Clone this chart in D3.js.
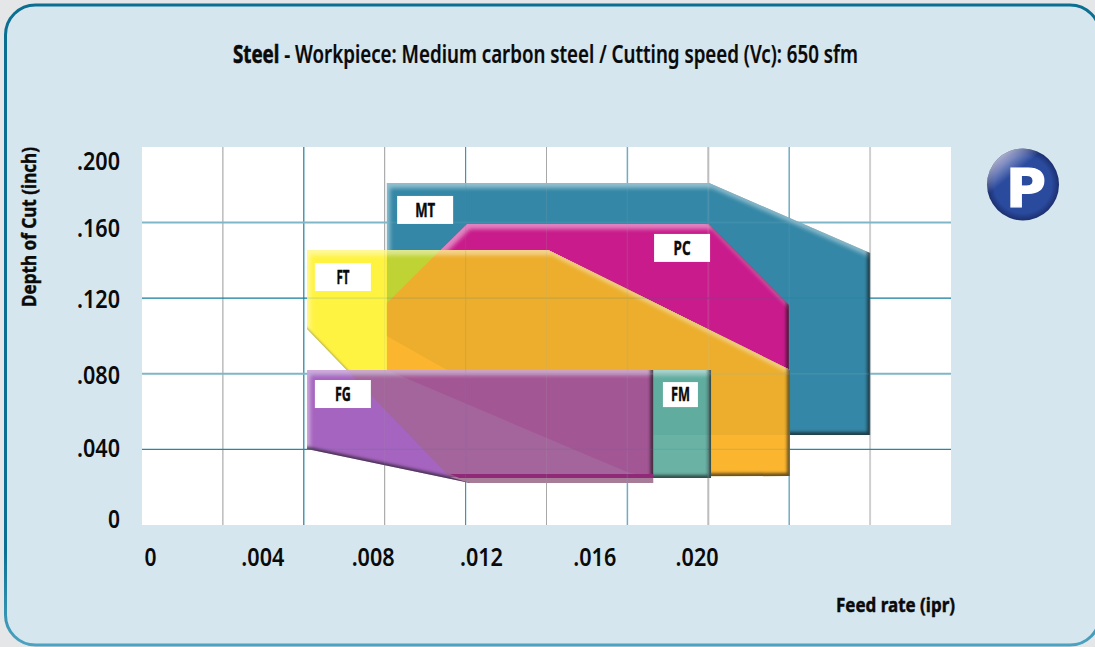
<!DOCTYPE html>
<html>
<head>
<meta charset="utf-8">
<script src="https://cdn.jsdelivr.net/npm/d3@7"></script>
<style>
  html, body { margin: 0; padding: 0; background: #e4e6e8; overflow: hidden; }
  svg { display: block; }
  text { font-family: "Noto Sans", "Open Sans", "Liberation Sans", sans-serif; fill: #0a0a0a; }
</style>
</head>
<body>
<svg id="chart"></svg>
<script>
// values: [feed rate ipr, depth of cut inch]
const mt = [[.00896, .1810], [.02075, .1810], [.02664, .1439], [.02664, .0476], [.01537, .0476], [.00896, .1000]];
const pc = [[.00896, .1175], [.01189, .1593], [.02075, .1593], [.02367, .1164], [.02367, .0259], [.01127, .0259], [.00896, .0598]];
const ft = [[.00604, .1455], [.01486, .1455], [.02371, .0820], [.02371, .0259], [.01127, .0254], [.00604, .1037]];
const fm = [[.0180, .0820], [.02082, .0820], [.02082, .0249], [.0180, .0249]];
const fg = [[.00604, .0820], [.0187, .0820], [.0187, .0222], [.0120, .0222], [.00604, .0402]];
// darker part of the FG band, where it lies over MT and PC
const fgDeep = [[.00896, .0820], [.0187, .0820], [.0187, .0249], [.01775, .0280]];
const fgStrip = [[.01127, .0254], [.0187, .0254], [.0187, .0222], [.0120, .0222]];
const fgSeam = [[.01127, .0270], [.0187, .0270], [.0187, .0249], [.0116, .0249]];

const xTicks = [0, .004, .008, .012, .016, .020];
const yTicks = [0, .040, .080, .120, .160, .200];
const xGridCount = 10;
const labels = ['MT', 'PC', 'FT', 'FG', 'FM'];
const labelFeed = [.01036, .01976, .00735, .00735, .0197];
const labelDepth = [.1667, .1466, .1312, .0693, .0690];

const width = 1095;
const height = 647;
const svg = d3.select('#chart').attr('width', width).attr('height', height);

const x = d3.scaleLinear().domain([0, .0296]).range([142, 951]);
const y = d3.scaleLinear().domain([0, .2]).range([525, 147]);
const line = d3.line().x(d => x(d[0])).y(d => y(d[1])).curve(d3.curveLinearClosed);

// the print uses a condensed face, so the text is squeezed to the printed width
function squeeze(sel, w) {
  sel.attr('textLength', w).attr('lengthAdjust', 'spacingAndGlyphs');
}
// and it is heavier than the installed bold
function heavy(sel, w) {
  sel.style('stroke', '#0a0a0a').style('stroke-width', w);
}

const defs = svg.append('defs');

// bevel on the shapes: light on top and left, dark on right and bottom
const bevel = defs.append('filter').attr('id', 'bevel')
  .attr('color-interpolation-filters', 'sRGB')
  .attr('x', '-5%').attr('y', '-5%').attr('width', '110%').attr('height', '110%');
bevel.append('feOffset').attr('in', 'SourceAlpha').attr('dx', 2.5).attr('dy', 4.5).attr('result', 'o1');
bevel.append('feGaussianBlur').attr('in', 'o1').attr('stdDeviation', 2).attr('result', 'b1');
bevel.append('feComposite').attr('in', 'SourceAlpha').attr('in2', 'b1').attr('operator', 'out').attr('result', 'edge1');
bevel.append('feFlood').attr('flood-color', '#fff').attr('flood-opacity', .46);
bevel.append('feComposite').attr('in2', 'edge1').attr('operator', 'in').attr('result', 'light');
bevel.append('feOffset').attr('in', 'SourceAlpha').attr('dx', -3.5).attr('dy', -3).attr('result', 'o2');
bevel.append('feGaussianBlur').attr('in', 'o2').attr('stdDeviation', 1.8).attr('result', 'b2');
bevel.append('feComposite').attr('in', 'SourceAlpha').attr('in2', 'b2').attr('operator', 'out').attr('result', 'edge2');
bevel.append('feFlood').attr('flood-color', '#111').attr('flood-opacity', .62);
bevel.append('feComposite').attr('in2', 'edge2').attr('operator', 'in').attr('result', 'dark');
const merge = bevel.append('feMerge');
['SourceGraphic', 'light', 'dark'].forEach(d => merge.append('feMergeNode').attr('in', d));

const shapes = { mt, pc, ft, fm, fg };
Object.keys(shapes).forEach(k => {
  defs.append('clipPath').attr('id', 'clip-' + k).append('path').attr('d', line(shapes[k]));
});
const allClip = defs.append('clipPath').attr('id', 'all-shapes');
[mt, pc, ft, fm, fg].forEach(p => allClip.append('path').attr('d', line(p)));

const badgeFill = defs.append('radialGradient').attr('id', 'badge')
  .attr('cx', '50%').attr('cy', '50%').attr('r', '50%');
badgeFill.append('stop').attr('offset', '0%').attr('stop-color', '#2b4b9f');
badgeFill.append('stop').attr('offset', '80%').attr('stop-color', '#2a4a9e');
badgeFill.append('stop').attr('offset', '100%').attr('stop-color', '#1c2f6e');
const badgeShine = defs.append('linearGradient').attr('id', 'shine')
  .attr('x1', '30%').attr('y1', '0%').attr('x2', '50%').attr('y2', '25%');
badgeShine.append('stop').attr('offset', '0%').attr('stop-color', '#d8d4e8').attr('stop-opacity', .8);
badgeShine.append('stop').attr('offset', '100%').attr('stop-color', '#d8d4e8').attr('stop-opacity', 0);

const edge = defs.append('linearGradient').attr('id', 'edge')
  .attr('x1', 0).attr('y1', 0).attr('x2', 0).attr('y2', 1);
edge.append('stop').attr('offset', '0%').attr('stop-color', '#0b6f92');
edge.append('stop').attr('offset', '85%').attr('stop-color', '#0b6f92');
edge.append('stop').attr('offset', '100%').attr('stop-color', '#4aa3c0');

// panel
svg.append('rect')
  .attr('x', 5.5).attr('y', 5).attr('width', 1094.5).attr('height', 640).attr('rx', 30)
  .attr('fill', '#d5e6ef').attr('stroke', 'url(#edge)').attr('stroke-width', 3);

// plot area and grid
svg.append('rect')
  .attr('x', x(0)).attr('y', y(.2)).attr('width', x(.0296) - x(0)).attr('height', y(0) - y(.2))
  .attr('fill', '#fff');

const vGridColor = ['#9a9a9a', '#1d7f9f', '#9a9a9a', '#3f95b0', '#a8a8a8', '#6eaec3', '#bdbdbd', '#6eaec3', '#cfcfcf'];
const vGridWidth = [1, 1.2, 1, 1.2, 1, 1.5, 2, 1.5, 2];
const hGridColor = ['#2a86a5', '#7fb6c8', '#127c9e', '#7fb6c8'];
const hGridWidth = [1.2, 2, 1.2, 2];

function drawGrid(g) {
  g.selectAll('line.v').data(d3.range(1, xGridCount)).join('line').attr('class', 'v')
    .attr('x1', d => x(d * .00296)).attr('x2', d => x(d * .00296))
    .attr('y1', y(.2)).attr('y2', y(0))
    .attr('stroke', (d, i) => vGridColor[i]).attr('stroke-width', (d, i) => vGridWidth[i]);
  g.selectAll('line.h').data(yTicks.slice(1, 5)).join('line').attr('class', 'h')
    .attr('x1', x(0)).attr('x2', x(.0296))
    .attr('y1', d => y(d)).attr('y2', d => y(d))
    .attr('stroke', (d, i) => hGridColor[i]).attr('stroke-width', (d, i) => hGridWidth[i]);
}
drawGrid(svg.append('g'));

// draws a polygon cut down to the listed shapes
function layer(parent, pts, fill, clips = []) {
  let g = parent;
  clips.forEach(c => { g = g.append('g').attr('clip-path', `url(#clip-${c})`); });
  g.append('path').attr('d', line(pts)).attr('fill', fill);
}

const gMt = svg.append('g').attr('filter', 'url(#bevel)');
layer(gMt, mt, '#3487a6');

const gPc = svg.append('g').attr('filter', 'url(#bevel)');
layer(gPc, pc, '#c91b8b');

const gFt = svg.append('g').attr('filter', 'url(#bevel)');
layer(gFt, ft, '#fff342');
layer(gFt, mt, '#c0d335', ['ft']);
layer(gFt, pc, '#fbb52e', ['ft']);
layer(gFt, pc, '#ecae2c', ['ft', 'mt']);

const gFm = svg.append('g').attr('filter', 'url(#bevel)');
layer(gFm, fm, '#69b2a4');
layer(gFm, mt, '#60ad9f', ['fm']);

const gFg = svg.append('g').attr('filter', 'url(#bevel)');
layer(gFg, fg, '#a564bf');
layer(gFg, ft, '#a4649c', ['fg']);
layer(gFg, fgDeep, '#a35694', ['fg']);

layer(svg.append('g'), fgStrip, '#a67c99');
layer(svg.append('g'), fgSeam, '#902a78');

// grid shows faintly through the shapes
drawGrid(svg.append('g').attr('opacity', .16).attr('clip-path', 'url(#all-shapes)'));

// label boxes
const labelWidth = { MT: 20, PC: 17, FT: 13, FG: 16, FM: 19 };
const box = svg.append('g').selectAll('g').data(labels).join('g')
  .attr('transform', (d, i) => `translate(${x(labelFeed[i])},${y(labelDepth[i])})`);
box.append('rect')
  .attr('x', d => d === 'FM' ? -17.5 : -28).attr('y', d => d === 'FM' ? -12.5 : -14)
  .attr('width', d => d === 'FM' ? 35 : 56).attr('height', d => d === 'FM' ? 25 : 28)
  .attr('fill', '#fff');
box.append('text').text(d => d)
  .attr('text-anchor', 'middle').attr('dy', '0.36em')
  .attr('font-size', 19).attr('font-weight', 700)
  .call(heavy, .4)
  .each(function (d) { squeeze(d3.select(this), labelWidth[d]); });

// axes, the printed labels do not sit exactly on the grid
const tickText = d => d === 0 ? '0' : d3.format('.3f')(d).slice(1);
const xLabelShift = [8, 11, 12, 11, 15, 8];
const yLabelShift = [-7, -2, 0, 0, 5, 13];

const xAxis = svg.append('g').attr('transform', 'translate(0,557)')
  .call(d3.axisBottom(x).tickValues(xTicks).tickFormat(tickText).tickSize(0).tickPadding(0));
xAxis.select('.domain').remove();
xAxis.selectAll('text')
  .attr('x', (d, i) => xLabelShift[i]).attr('y', 0).attr('dy', '0.36em')
  .attr('font-size', 26).attr('font-weight', 600)
  .each(function (d) { squeeze(d3.select(this), d === 0 ? 12 : 43); });

const yAxis = svg.append('g').attr('transform', 'translate(120,0)')
  .call(d3.axisLeft(y).tickValues(yTicks).tickFormat(tickText).tickSize(0).tickPadding(0));
yAxis.select('.domain').remove();
yAxis.selectAll('text')
  .attr('x', 0).attr('y', (d, i) => yLabelShift[i]).attr('dy', '0.36em')
  .attr('font-size', 26).attr('font-weight', 600)
  .each(function (d) { squeeze(d3.select(this), d === 0 ? 12 : 43); });

// axis titles
svg.append('text').attr('x', 955).attr('y', 612).attr('text-anchor', 'end')
  .attr('font-size', 20).attr('font-weight', 700).text('Feed rate (ipr)')
  .call(squeeze, 119).call(heavy, .45);
svg.append('text').attr('transform', 'translate(36,227) rotate(-90)').attr('text-anchor', 'middle')
  .attr('font-size', 20).attr('font-weight', 700).text('Depth of Cut (inch)')
  .call(squeeze, 160).call(heavy, .45);

// title
const title = svg.append('text').attr('x', 233).attr('y', 63)
  .attr('font-size', 25).attr('font-weight', 700)
  .call(squeeze, 625);
title.append('tspan').text('Steel').call(heavy, .6);
title.append('tspan').attr('font-weight', 600).text(' - Workpiece: Medium carbon steel / Cutting speed (Vc): 650 sfm').call(heavy, .2);

// P badge
svg.append('circle').attr('cx', 1023).attr('cy', 184.5).attr('r', 36).attr('fill', 'url(#badge)');
svg.append('circle').attr('cx', 1023).attr('cy', 184.5).attr('r', 36).attr('fill', 'url(#shine)');
svg.append('text').attr('x', 1006).attr('y', 206.5)
  .attr('font-size', 53).attr('font-weight', 700)
  .style('font-family', '"DejaVu Sans", sans-serif').style('fill', '#fff')
  .style('stroke', '#fff').style('stroke-width', 1.2).text('P')
  .call(squeeze, 40);
</script>
</body>
</html>
